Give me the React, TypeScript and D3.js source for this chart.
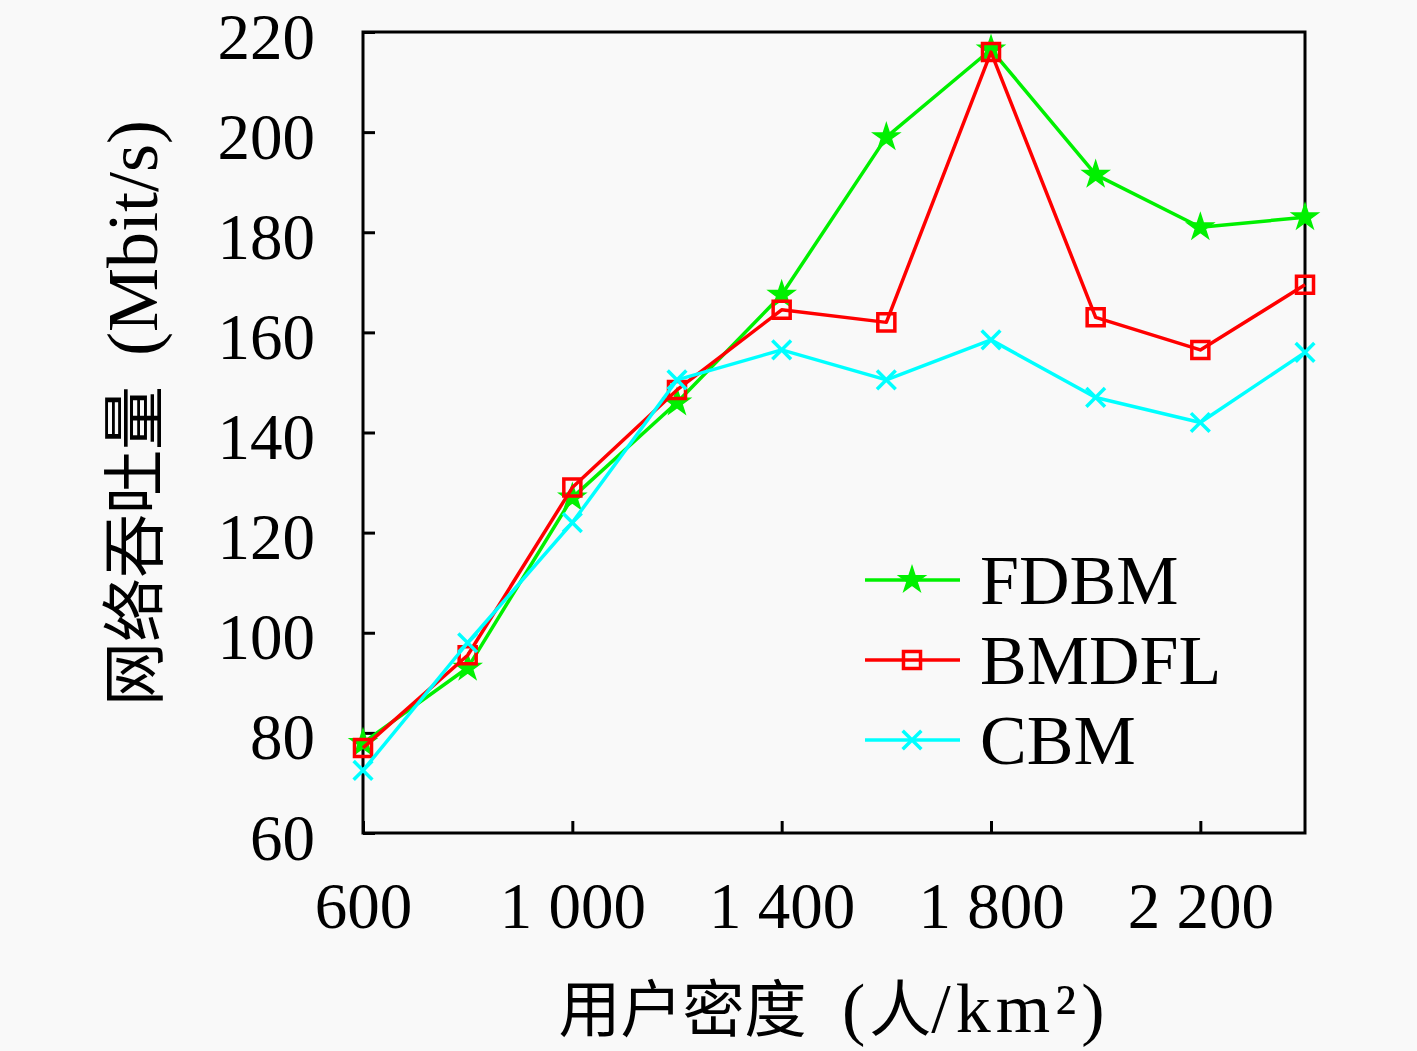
import React, { useEffect, useRef } from "react";
import * as d3 from "d3";

// user density (people / km^2)
const densities = [600, 800, 1000, 1200, 1400, 1600, 1800, 2000, 2200, 2400];
// throughput (Mbit/s)
const fdbm = [78, 93, 127, 146, 167.5, 199, 216.5, 191.5, 181, 183];
const bmdfl = [77, 95.5, 129, 148.5, 164.5, 162, 216, 163, 156.5, 169.5];
const cbm = [72.5, 98, 122, 150.5, 156.5, 150.5, 158.5, 147, 142, 156];

const seriesNames = ["FDBM", "BMDFL", "CBM"];
const xTickValues = [600, 1000, 1400, 1800, 2200];
const yTickValues = [60, 80, 100, 120, 140, 160, 180, 200, 220];

const latin = "'Liberation Serif', 'DejaVu Serif', serif";
const cjk = "'Noto Sans CJK SC', 'Noto Sans', sans-serif";

export default function App() {
  const ref = useRef<SVGSVGElement | null>(null);

  useEffect(() => {
    document.body.style.margin = "0";
    const width = 1417,
      height = 1051;
    const plot = { left: 363, right: 1305, top: 32, bottom: 833 };

    const svg = d3.select(ref.current);
    svg.selectAll("*").remove();
    svg.attr("width", width).attr("height", height);

    svg
      .append("rect")
      .attr("width", width)
      .attr("height", height)
      .attr("fill", "#f9f9f9");

    const x = d3.scaleLinear().domain([600, 2400]).range([plot.left, plot.right]);
    const y = d3.scaleLinear().domain([60, 220]).range([plot.bottom, plot.top]);

    const fmt = (d: number) =>
      d >= 1000
        ? `${Math.floor(d / 1000)} ${String(d % 1000).padStart(3, "0")}`
        : String(d);

    // x axis, ticks pointing inward
    const xAxis = svg
      .append("g")
      .attr("transform", `translate(0,${plot.bottom})`)
      .call(
        d3
          .axisBottom(x)
          .tickValues(xTickValues)
          .tickSizeInner(-12)
          .tickSizeOuter(0)
          .tickFormat((d) => fmt(+d))
      );
    xAxis.select(".domain").remove();
    xAxis.selectAll(".tick line").attr("stroke", "#000").attr("stroke-width", 3);
    xAxis
      .selectAll(".tick text")
      .attr("y", 95)
      .attr("dy", 0)
      .attr("fill", "#000")
      .style("font-family", latin)
      .style("font-size", "65px");

    // y axis
    const yAxis = svg
      .append("g")
      .attr("transform", `translate(${plot.left},0)`)
      .call(
        d3
          .axisLeft(y)
          .tickValues(yTickValues)
          .tickSizeInner(-12)
          .tickSizeOuter(0)
      );
    yAxis.select(".domain").remove();
    yAxis.selectAll(".tick line").attr("stroke", "#000").attr("stroke-width", 3);
    yAxis
      .selectAll(".tick text")
      .attr("x", -48)
      .attr("dy", 0)
      .attr("y", 26)
      .attr("fill", "#000")
      .style("font-family", latin)
      .style("font-size", "65px");

    // plot box
    svg
      .append("rect")
      .attr("x", plot.left)
      .attr("y", plot.top)
      .attr("width", plot.right - plot.left)
      .attr("height", plot.bottom - plot.top)
      .attr("fill", "none")
      .attr("stroke", "#000")
      .attr("stroke-width", 3);

    const series = [
      { name: seriesNames[0], values: fdbm, color: "#00f000", type: d3.symbolStar, size: 210, fill: true },
      { name: seriesNames[1], values: bmdfl, color: "#ff0000", type: d3.symbolSquare, size: 290, fill: false },
      { name: seriesNames[2], values: cbm, color: "#00ffff", type: d3.symbolTimes, size: 230, fill: false },
    ];

    const line = d3
      .line<number>()
      .x((_, i) => x(densities[i]))
      .y((d) => y(d));

    const drawMarker = (g: any, s: any, cx: number, cy: number) => {
      g.append("path")
        .attr("d", d3.symbol().type(s.type).size(s.size)())
        .attr("transform", `translate(${cx},${cy})`)
        .attr("fill", s.fill ? s.color : "none")
        .attr("stroke", s.color)
        .attr("stroke-width", s.fill ? 1.5 : 3.5);
    };

    series.forEach((s) => {
      const g = svg.append("g");
      g.append("path")
        .datum(s.values)
        .attr("fill", "none")
        .attr("stroke", s.color)
        .attr("stroke-width", 3.5)
        .attr("stroke-linejoin", "round")
        .attr("d", line);
      s.values.forEach((v, i) => drawMarker(g, s, x(densities[i]), y(v)));
    });

    // legend
    const legend = svg.append("g");
    series.forEach((s, i) => {
      const ly = 580 + i * 80;
      legend
        .append("line")
        .attr("x1", 865)
        .attr("x2", 960)
        .attr("y1", ly)
        .attr("y2", ly)
        .attr("stroke", s.color)
        .attr("stroke-width", 3.5);
      drawMarker(legend, s, 912, ly);
      legend
        .append("text")
        .attr("x", 980)
        .attr("y", ly + 24)
        .attr("fill", "#000")
        .style("font-family", latin)
        .style("font-size", "70px")
        .text(s.name);
    });

    // x axis title
    const xt = svg
      .append("text")
      .attr("x", 834)
      .attr("y", 1032)
      .attr("text-anchor", "middle")
      .attr("fill", "#000");
    xt.append("tspan").style("font-family", cjk).style("font-size", "62px").text("用户密度");
    xt.append("tspan")
      .attr("dx", 14)
      .style("font-family", latin)
      .style("font-size", "70px")
      .style("letter-spacing", "4px")
      .text(" (");
    xt.append("tspan").style("font-family", cjk).style("font-size", "62px").text("人");
    xt.append("tspan")
      .style("font-family", latin)
      .style("font-size", "70px")
      .style("letter-spacing", "5px")
      .text("/km²)");

    // y axis title
    const yt = svg
      .append("text")
      .attr("transform", "translate(157,413) rotate(-90)")
      .attr("text-anchor", "middle")
      .attr("fill", "#000");
    yt.append("tspan").style("font-family", cjk).style("font-size", "64px").text("网络吞吐量");
    yt.append("tspan")
      .attr("dx", 12)
      .style("font-family", latin)
      .style("font-size", "72px")
      .text(" (Mbit/s)");
  }, []);

  return <svg ref={ref} style={{ display: "block" }} />;
}
